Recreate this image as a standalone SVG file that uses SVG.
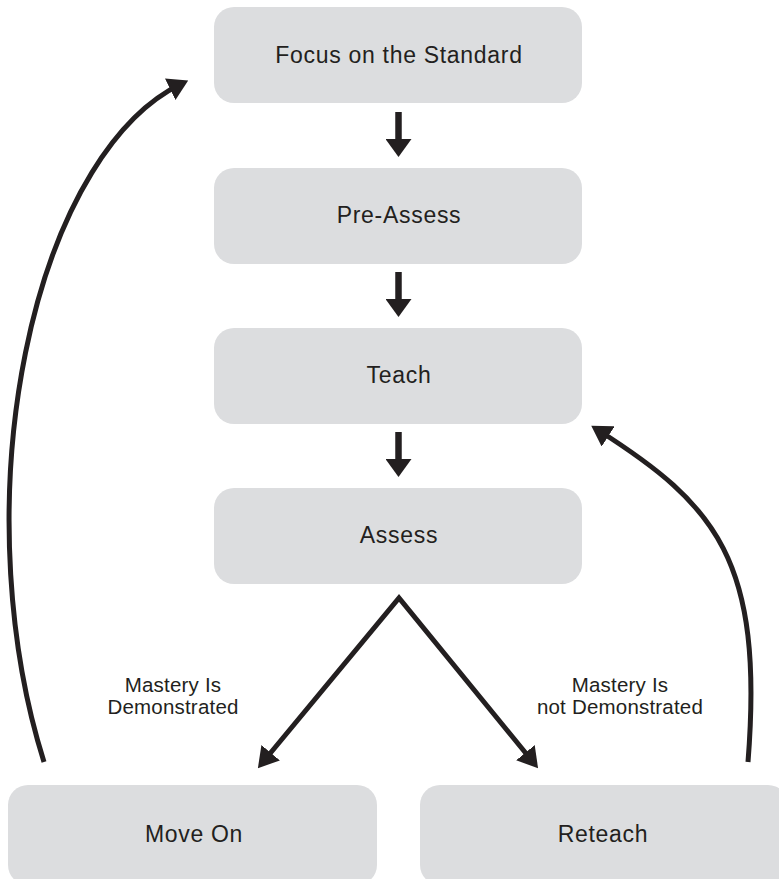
<svg xmlns="http://www.w3.org/2000/svg" width="779" height="879" viewBox="0 0 779 879">
<style>
.box{fill:#dcdddf}
.t{font-family:"Liberation Sans",Arial,sans-serif;font-size:23px;letter-spacing:0.7px;fill:#231f20;text-anchor:middle}
.lbl{font-family:"Liberation Sans",Arial,sans-serif;font-size:20.5px;letter-spacing:0.2px;fill:#231f20;text-anchor:middle}
.c{fill:none;stroke:#231f20;stroke-width:5}
.v{fill:none;stroke:#231f20;stroke-width:6.5}
</style>
<defs>
<marker id="ah" viewBox="0 0 20 24" refX="12" refY="12" markerWidth="20" markerHeight="24" markerUnits="userSpaceOnUse" orient="auto-start-reverse"><path d="M0 0 L20 12 L0 24 z" fill="#231f20"/></marker>
<marker id="vh" viewBox="0 0 18 26" refX="10" refY="13" markerWidth="18" markerHeight="26" markerUnits="userSpaceOnUse" orient="auto"><path d="M0 0 L18 13 L0 26 z" fill="#231f20"/></marker>
</defs>
<g id="focus"><rect class="box" x="214" y="7" width="368" height="96" rx="20"/><text class="t" x="399" y="63">Focus on the Standard</text></g>
<g id="preassess"><rect class="box" x="214" y="168" width="368" height="96" rx="20"/><text class="t" x="399" y="223">Pre-Assess</text></g>
<g id="teach"><rect class="box" x="214" y="328" width="368" height="96" rx="20"/><text class="t" x="399" y="383">Teach</text></g>
<g id="assess"><rect class="box" x="214" y="488" width="368" height="96" rx="20"/><text class="t" x="399" y="543">Assess</text></g>
<g id="moveon"><rect class="box" x="8" y="785" width="369" height="100" rx="20"/><text class="t" x="194" y="842">Move On</text></g>
<g id="reteach"><rect class="box" x="420" y="785" width="368" height="100" rx="20"/><text class="t" x="603" y="842">Reteach</text></g>
<g id="connectors">
<path class="v" d="M398.5 112 L398.5 149" marker-end="url(#vh)"/>
<path class="v" d="M398.5 272 L398.5 309" marker-end="url(#vh)"/>
<path class="v" d="M398.5 432 L398.5 469" marker-end="url(#vh)"/>
<path class="c" d="M263 762 L399 598 L533 762" stroke-linejoin="miter" marker-start="url(#ah)" marker-end="url(#ah)"/>
<path class="c" d="M44 762 A225 450 0 0 1 181 84" marker-end="url(#ah)"/>
<path class="c" d="M748 762 C764 560 716 505 598 430" marker-end="url(#ah)"/>
</g>
<g id="labels">
<text class="lbl" x="173" y="692">Mastery Is</text>
<text class="lbl" x="173" y="714">Demonstrated</text>
<text class="lbl" x="620" y="692">Mastery Is</text>
<text class="lbl" x="620" y="714">not Demonstrated</text>
</g>
</svg>
